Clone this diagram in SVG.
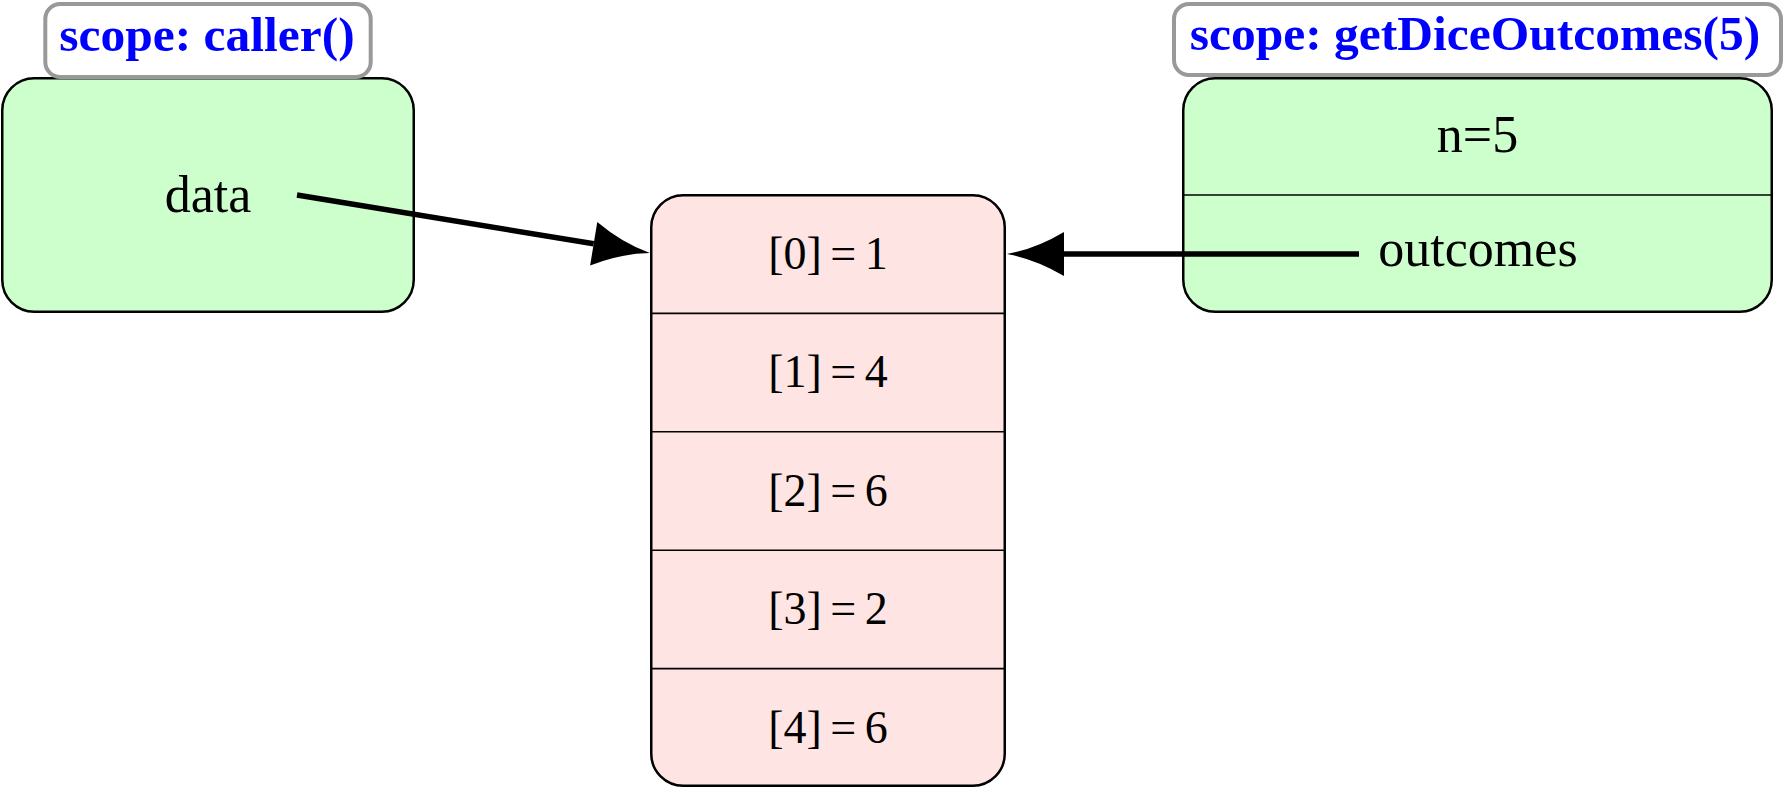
<svg xmlns="http://www.w3.org/2000/svg" width="1786" height="788" viewBox="0 0 1786 788">
<style>
.frame{fill:#ccffcc;stroke:#000;stroke-width:2.5}
.arr{fill:#ffe4e4;stroke:#000;stroke-width:2.5}
.div{stroke:#000;stroke-width:1.6;fill:none}
.lbl{fill:#fff;stroke:#999;stroke-width:4}
.title{font-family:"Liberation Serif","Times New Roman",serif;font-weight:bold;font-size:49.5px;fill:#0000ff;text-anchor:middle}
.t{font-family:"Liberation Serif","Times New Roman",serif;font-size:52px;fill:#000;text-anchor:middle}
.cell{font-size:46px;word-spacing:-3px}
.edge{stroke:#000;stroke-width:5.5;fill:none}
</style>
<defs>
<marker id="ah" markerUnits="userSpaceOnUse" markerWidth="60" markerHeight="50" refX="0" refY="0" orient="auto" overflow="visible">
<path d="M57,0 Q28.5,-5 0,-22 L0,22 Q28.5,5 57,0 Z" fill="#000"/>
</marker>
</defs>
<g id="caller">
<rect class="frame" x="2.25" y="78.25" width="411.5" height="233.5" rx="32" ry="32"/>
<text class="t" x="208" y="212">data</text>
</g>
<g id="getDiceOutcomes">
<rect class="frame" x="1183.25" y="78.25" width="588.5" height="233.5" rx="32" ry="32"/>
<line class="div" x1="1183.25" y1="195" x2="1771.75" y2="195"/>
<text class="t" x="1477.5" y="152">n=5</text>
<text class="t" x="1478" y="266">outcomes</text>
</g>
<g id="array">
<rect class="arr" x="651.25" y="195.25" width="353.5" height="590.5" rx="32" ry="32"/>
<line class="div" x1="651.25" y1="313.4" x2="1004.75" y2="313.4"/>
<line class="div" x1="651.25" y1="431.8" x2="1004.75" y2="431.8"/>
<line class="div" x1="651.25" y1="550.2" x2="1004.75" y2="550.2"/>
<line class="div" x1="651.25" y1="668.6" x2="1004.75" y2="668.6"/>
<text class="t cell" x="828" y="269">[0] = 1</text>
<text class="t cell" x="828" y="387.4">[1] = 4</text>
<text class="t cell" x="828" y="505.8">[2] = 6</text>
<text class="t cell" x="828" y="624.2">[3] = 2</text>
<text class="t cell" x="828" y="742.6">[4] = 6</text>
</g>
<g id="connectors">
<line class="edge" x1="297" y1="195" x2="593.7" y2="243.8" marker-end="url(#ah)"/>
<line class="edge" x1="1359" y1="254" x2="1064" y2="254" marker-end="url(#ah)"/>
</g>
<g id="label-caller">
<rect class="lbl" x="45.3" y="4" width="325.4" height="73" rx="15" ry="15"/>
<text class="title" x="207" y="51">scope: caller()</text>
</g>
<g id="label-getDiceOutcomes">
<rect class="lbl" x="1174" y="4" width="607" height="71" rx="15" ry="15"/>
<text class="title" x="1475" y="50">scope: getDiceOutcomes(5)</text>
</g>
</svg>
